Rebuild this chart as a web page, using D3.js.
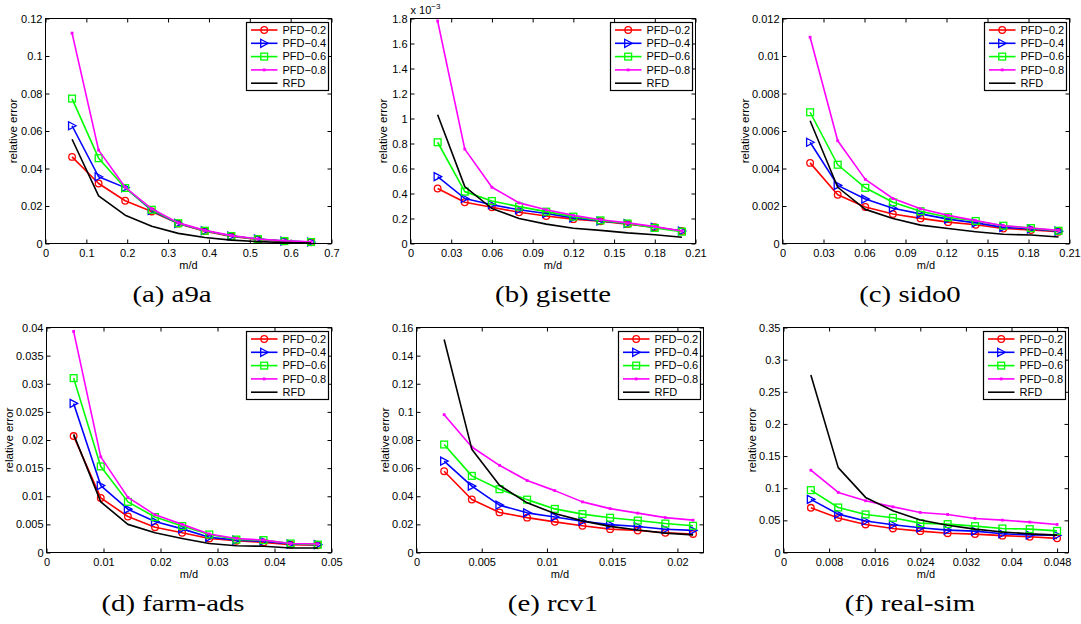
<!DOCTYPE html>
<html><head><meta charset="utf-8">
<script src="https://cdn.jsdelivr.net/npm/d3@7"></script>
<style>
html,body{margin:0;padding:0;background:#fff;}
svg{display:block;}
text{font-family:"Liberation Sans",Arial,Helvetica,sans-serif;fill:#000;}
.cap{font-family:"Liberation Serif","Times New Roman",serif;}
</style></head>
<body>
<svg id="fig" width="1081" height="624"></svg>
<script>
// ---------------- DATA ----------------
const seriesNames = ["PFD\u22120.2","PFD\u22120.4","PFD\u22120.6","PFD\u22120.8","RFD"];
const panelNames = ["(a) a9a","(b) gisette","(c) sido0","(d) farm-ads","(e) rcv1","(f) real-sim"];
const xLabel = "m/d";
const yLabel = "relative error";

// (a) a9a
const a9a_x    = [0.065,0.13,0.195,0.26,0.325,0.39,0.455,0.52,0.585,0.65];
const a9a_pfd2 = [0.0462,0.0320,0.0228,0.0171,0.0106,0.0066,0.0038,0.0022,0.0012,0.0007];
const a9a_pfd4 = [0.0628,0.0356,0.0298,0.0176,0.0107,0.0068,0.0040,0.0024,0.0013,0.0008];
const a9a_pfd6 = [0.0773,0.0455,0.0296,0.0180,0.0108,0.0068,0.0040,0.0023,0.0013,0.0008];
const a9a_pfd8 = [0.1122,0.0498,0.0300,0.0185,0.0110,0.0070,0.0042,0.0024,0.0014,0.0009];
const a9a_rfd  = [0.0556,0.0254,0.0151,0.0092,0.0054,0.0032,0.0018,0.0010,0.0005,0.0003];
const a9a_xticks = [0,0.1,0.2,0.3,0.4,0.5,0.6,0.7];
const a9a_yticks = [0,0.02,0.04,0.06,0.08,0.1,0.12];

// (b) gisette (values in units of 1e-3)
const gis_x    = [0.02,0.04,0.06,0.08,0.10,0.12,0.14,0.16,0.18,0.20];
const gis_pfd2 = [0.44,0.33,0.29,0.25,0.22,0.195,0.178,0.155,0.13,0.10];
const gis_pfd4 = [0.535,0.36,0.31,0.27,0.24,0.205,0.18,0.16,0.13,0.10];
const gis_pfd6 = [0.81,0.415,0.34,0.295,0.255,0.215,0.185,0.16,0.125,0.095];
const gis_pfd8 = [1.78,0.755,0.45,0.325,0.27,0.225,0.19,0.165,0.135,0.10];
const gis_rfd  = [1.03,0.455,0.28,0.20,0.155,0.122,0.105,0.085,0.07,0.05];
const gis_xticks = [0,0.03,0.06,0.09,0.12,0.15,0.18,0.21];
const gis_yticks = [0,0.2,0.4,0.6,0.8,1,1.2,1.4,1.6,1.8];

// (c) sido0
const sido_x    = [0.0202,0.0404,0.0606,0.0808,0.101,0.1212,0.1414,0.1616,0.1818,0.202];
const sido_pfd2 = [0.0043,0.0026,0.00195,0.00157,0.00134,0.00114,0.00100,0.00080,0.00072,0.00063];
const sido_pfd4 = [0.0054,0.0031,0.00237,0.00188,0.00158,0.00130,0.00110,0.00086,0.00078,0.00066];
const sido_pfd6 = [0.0070,0.0042,0.00297,0.00220,0.00172,0.00140,0.00120,0.00095,0.00082,0.00068];
const sido_pfd8 = [0.0110,0.00548,0.00342,0.00240,0.00185,0.00150,0.00122,0.00095,0.00083,0.00070];
const sido_rfd  = [0.00655,0.0030,0.00182,0.00133,0.00098,0.00080,0.00063,0.00049,0.00045,0.00035];
const sido_xticks = [0,0.03,0.06,0.09,0.12,0.15,0.18,0.21];
const sido_yticks = [0,0.002,0.004,0.006,0.008,0.01,0.012];

// (d) farm-ads
const farm_x    = [0.00476,0.00952,0.01428,0.01904,0.0238,0.02856,0.03332,0.03808,0.04284,0.0476];
const farm_pfd2 = [0.0207,0.0097,0.0064,0.0045,0.0035,0.0025,0.0021,0.0018,0.0014,0.0013];
const farm_pfd4 = [0.0265,0.0119,0.0077,0.0055,0.0042,0.0027,0.0022,0.0020,0.0015,0.0014];
const farm_pfd6 = [0.0310,0.0153,0.0090,0.0063,0.0047,0.0032,0.0023,0.0022,0.0016,0.0014];
const farm_pfd8 = [0.0393,0.0170,0.0098,0.0067,0.0050,0.0033,0.0025,0.0022,0.0016,0.0015];
const farm_rfd  = [0.0210,0.0090,0.0050,0.0035,0.0025,0.0016,0.0012,0.0011,0.0008,0.0008];
const farm_xticks = [0,0.01,0.02,0.03,0.04,0.05];
const farm_yticks = [0,0.005,0.01,0.015,0.02,0.025,0.03,0.035,0.04];

// (e) rcv1
const rcv_x    = [0.00212,0.00424,0.00636,0.00848,0.0106,0.01272,0.01484,0.01696,0.01908,0.0212];
const rcv_pfd2 = [0.0578,0.0377,0.0285,0.0248,0.0218,0.0190,0.0166,0.0156,0.0140,0.0132];
const rcv_pfd4 = [0.0650,0.0472,0.0337,0.0282,0.0253,0.0222,0.0198,0.0185,0.0165,0.0157];
const rcv_pfd6 = [0.0768,0.0545,0.0450,0.0376,0.0310,0.0273,0.0247,0.0227,0.0206,0.0190];
const rcv_pfd8 = [0.0980,0.0750,0.0620,0.0512,0.0440,0.0360,0.0312,0.0280,0.0248,0.0230];
const rcv_rfd  = [0.1515,0.0735,0.0478,0.0353,0.0277,0.0225,0.0186,0.0160,0.0138,0.0125];
const rcv_xticks = [0,0.005,0.01,0.015,0.02];
const rcv_yticks = [0,0.02,0.04,0.06,0.08,0.1,0.12,0.14,0.16];

// (f) real-sim
const real_x    = [0.0048,0.0096,0.0144,0.0192,0.024,0.0288,0.0336,0.0384,0.0432,0.048];
const real_pfd2 = [0.0695,0.0538,0.0436,0.0374,0.0332,0.0300,0.0286,0.0262,0.0244,0.0220];
const real_pfd4 = [0.0826,0.0597,0.0490,0.0432,0.0384,0.0348,0.0332,0.0292,0.0272,0.0268];
const real_pfd6 = [0.0970,0.0700,0.0592,0.0540,0.0457,0.0441,0.0410,0.0374,0.0363,0.0336];
const real_pfd8 = [0.1280,0.0935,0.0805,0.0710,0.0623,0.0592,0.0530,0.0504,0.0473,0.0436];
const real_rfd  = [0.2760,0.1320,0.0857,0.0650,0.0505,0.0425,0.0363,0.0320,0.0290,0.0270];
const real_xticks = [0,0.008,0.016,0.024,0.032,0.04,0.048];
const real_yticks = [0,0.05,0.1,0.15,0.2,0.25,0.3,0.35];

// ---------------- PANELS (data refs + domains) ----------------
const panels = [
  {x:a9a_x,  ys:[a9a_pfd2,a9a_pfd4,a9a_pfd6,a9a_pfd8,a9a_rfd],      xmax:0.7,   ymax:0.12,  xt:a9a_xticks,  yt:a9a_yticks},
  {x:gis_x,  ys:[gis_pfd2,gis_pfd4,gis_pfd6,gis_pfd8,gis_rfd],      xmax:0.21,  ymax:1.8,   xt:gis_xticks,  yt:gis_yticks, exp:"\u22123"},
  {x:sido_x, ys:[sido_pfd2,sido_pfd4,sido_pfd6,sido_pfd8,sido_rfd], xmax:0.21,  ymax:0.012, xt:sido_xticks, yt:sido_yticks},
  {x:farm_x, ys:[farm_pfd2,farm_pfd4,farm_pfd6,farm_pfd8,farm_rfd], xmax:0.05,  ymax:0.04,  xt:farm_xticks, yt:farm_yticks},
  {x:rcv_x,  ys:[rcv_pfd2,rcv_pfd4,rcv_pfd6,rcv_pfd8,rcv_rfd],      xmax:0.022, ymax:0.16,  xt:rcv_xticks,  yt:rcv_yticks},
  {x:real_x, ys:[real_pfd2,real_pfd4,real_pfd6,real_pfd8,real_rfd], xmax:0.05,  ymax:0.35,  xt:real_xticks, yt:real_yticks}
];

// ---------------- LAYOUT / STYLE ----------------
const layout = [
  {l:45.5,  r:331.5,  t:18.5,  b:243.5, ylx:13,  capX:172, capY:302},
  {l:410.5, r:695.5,  t:18.5,  b:243.5, ylx:383, capX:553, capY:302},
  {l:782.5, r:1069.5, t:18.5,  b:243.5, ylx:745, capX:910, capY:302},
  {l:46.5,  r:331.5,  t:327.5, b:552.5, ylx:9,   capX:173, capY:611},
  {l:416.5, r:703.5,  t:327.5, b:552.5, ylx:385, capX:553, capY:611},
  {l:783.5, r:1068.5, t:327.5, b:552.5, ylx:752, capX:910, capY:611}
];
const colors  = ["#ff0000","#0000ff","#00ff00","#ff00ff","#000000"];
const markers = ["circle","tri","square","dot","none"];

const svg = d3.select("#fig");
const fmt = v => String(+(+v).toFixed(6));

function marker(g, type, cx, cy, color){
  if(type==="circle"){
    g.append("circle").attr("cx",cx).attr("cy",cy).attr("r",3.3)
     .attr("fill","none").attr("stroke",color).attr("stroke-width",1.3);
  } else if(type==="tri"){
    g.append("path").attr("d",`M${cx+4},${cy}L${cx-3.5},${cy-4}L${cx-3.5},${cy+4}Z`)
     .attr("fill","none").attr("stroke",color).attr("stroke-width",1.3);
  } else if(type==="square"){
    g.append("rect").attr("x",cx-3.4).attr("y",cy-3.4).attr("width",6.8).attr("height",6.8)
     .attr("fill","none").attr("stroke",color).attr("stroke-width",1.3);
  } else if(type==="dot"){
    g.append("rect").attr("x",cx-1.4).attr("y",cy-1.4).attr("width",2.8).attr("height",2.8)
     .attr("fill",color);
  }
}

panels.forEach((p,i)=>{
  const L = layout[i];
  const x = d3.scaleLinear().domain([0,p.xmax]).range([L.l,L.r]);
  const y = d3.scaleLinear().domain([0,p.ymax]).range([L.b,L.t]);
  const g = svg.append("g");

  // axes ticks (inward) on all four sides
  const ax = g.append("g").attr("transform",`translate(0,${L.b})`)
    .call(d3.axisBottom(x).tickValues(p.xt).tickSizeInner(-4).tickSizeOuter(0).tickPadding(6).tickFormat(fmt));
  const axT = g.append("g").attr("transform",`translate(0,${L.t})`)
    .call(d3.axisTop(x).tickValues(p.xt).tickSizeInner(-4).tickSizeOuter(0).tickFormat(""));
  const ay = g.append("g").attr("transform",`translate(${L.l},0)`)
    .call(d3.axisLeft(y).tickValues(p.yt).tickSizeInner(-4).tickSizeOuter(0).tickPadding(3).tickFormat(fmt));
  const ayR = g.append("g").attr("transform",`translate(${L.r},0)`)
    .call(d3.axisRight(y).tickValues(p.yt).tickSizeInner(-4).tickSizeOuter(0).tickFormat(""));
  [ax,axT,ay,ayR].forEach(a=>{
    a.select(".domain").remove();
    a.selectAll("line").attr("stroke","#000").attr("stroke-width",1);
    a.selectAll("text").attr("font-size",11).attr("font-family","Liberation Sans, Arial, sans-serif").attr("fill","#000");
  });

  // series
  const plot = g.append("g");
  p.ys.forEach((vals,s)=>{
    const pts = vals.map((v,k)=>[x(p.x[k]), y(v)]);
    plot.append("path").attr("d", d3.line()(pts))
      .attr("fill","none").attr("stroke",colors[s]).attr("stroke-width",1.6)
      .attr("stroke-linejoin","round");
    pts.forEach(([cx,cy])=>marker(plot, markers[s], cx, cy, colors[s]));
  });

  // box
  g.append("rect").attr("x",L.l).attr("y",L.t).attr("width",L.r-L.l).attr("height",L.b-L.t)
    .attr("fill","none").attr("stroke","#000").attr("stroke-width",1);

  // exponent label
  if(p.exp){
    const t = g.append("text").attr("x",L.l).attr("y",L.t-4.5).attr("font-size",11);
    t.append("tspan").text("x 10");
    t.append("tspan").attr("dy",-5).attr("font-size",8).text(p.exp);
  }

  // axis labels
  g.append("text").attr("x",(L.l+L.r)/2).attr("y",L.b+25).attr("text-anchor","middle")
    .attr("font-size",11).text(xLabel);
  g.append("text").attr("transform",`translate(${L.ylx},${(L.t+L.b)/2}) rotate(-90)`)
    .attr("dy","0.35em").attr("text-anchor","middle").attr("font-size",11.5).text(yLabel);

  // legend
  const lw = 82, lh = 68;
  const lx = L.r - 3 - lw, ly = L.t + 4;
  const lg = g.append("g");
  lg.append("rect").attr("x",lx).attr("y",ly).attr("width",lw).attr("height",lh)
    .attr("fill","#fff").attr("stroke","#000").attr("stroke-width",1.2);
  seriesNames.forEach((name,s)=>{
    const ry = ly + 7.5 + s*13.3;
    lg.append("line").attr("x1",lx+4.5).attr("x2",lx+31).attr("y1",ry).attr("y2",ry)
      .attr("stroke",colors[s]).attr("stroke-width",1.6);
    marker(lg, markers[s], lx+17.7, ry, colors[s]);
    lg.append("text").attr("x",lx+36).attr("y",ry).attr("dy","0.35em").attr("font-size",11).text(name);
  });

  // caption
  svg.append("text").attr("class","cap")
    .attr("transform",`translate(${L.capX},${L.capY}) scale(1.2,1)`)
    .attr("text-anchor","middle").attr("font-size",24).text(panelNames[i]);
});
</script>
</body></html>
